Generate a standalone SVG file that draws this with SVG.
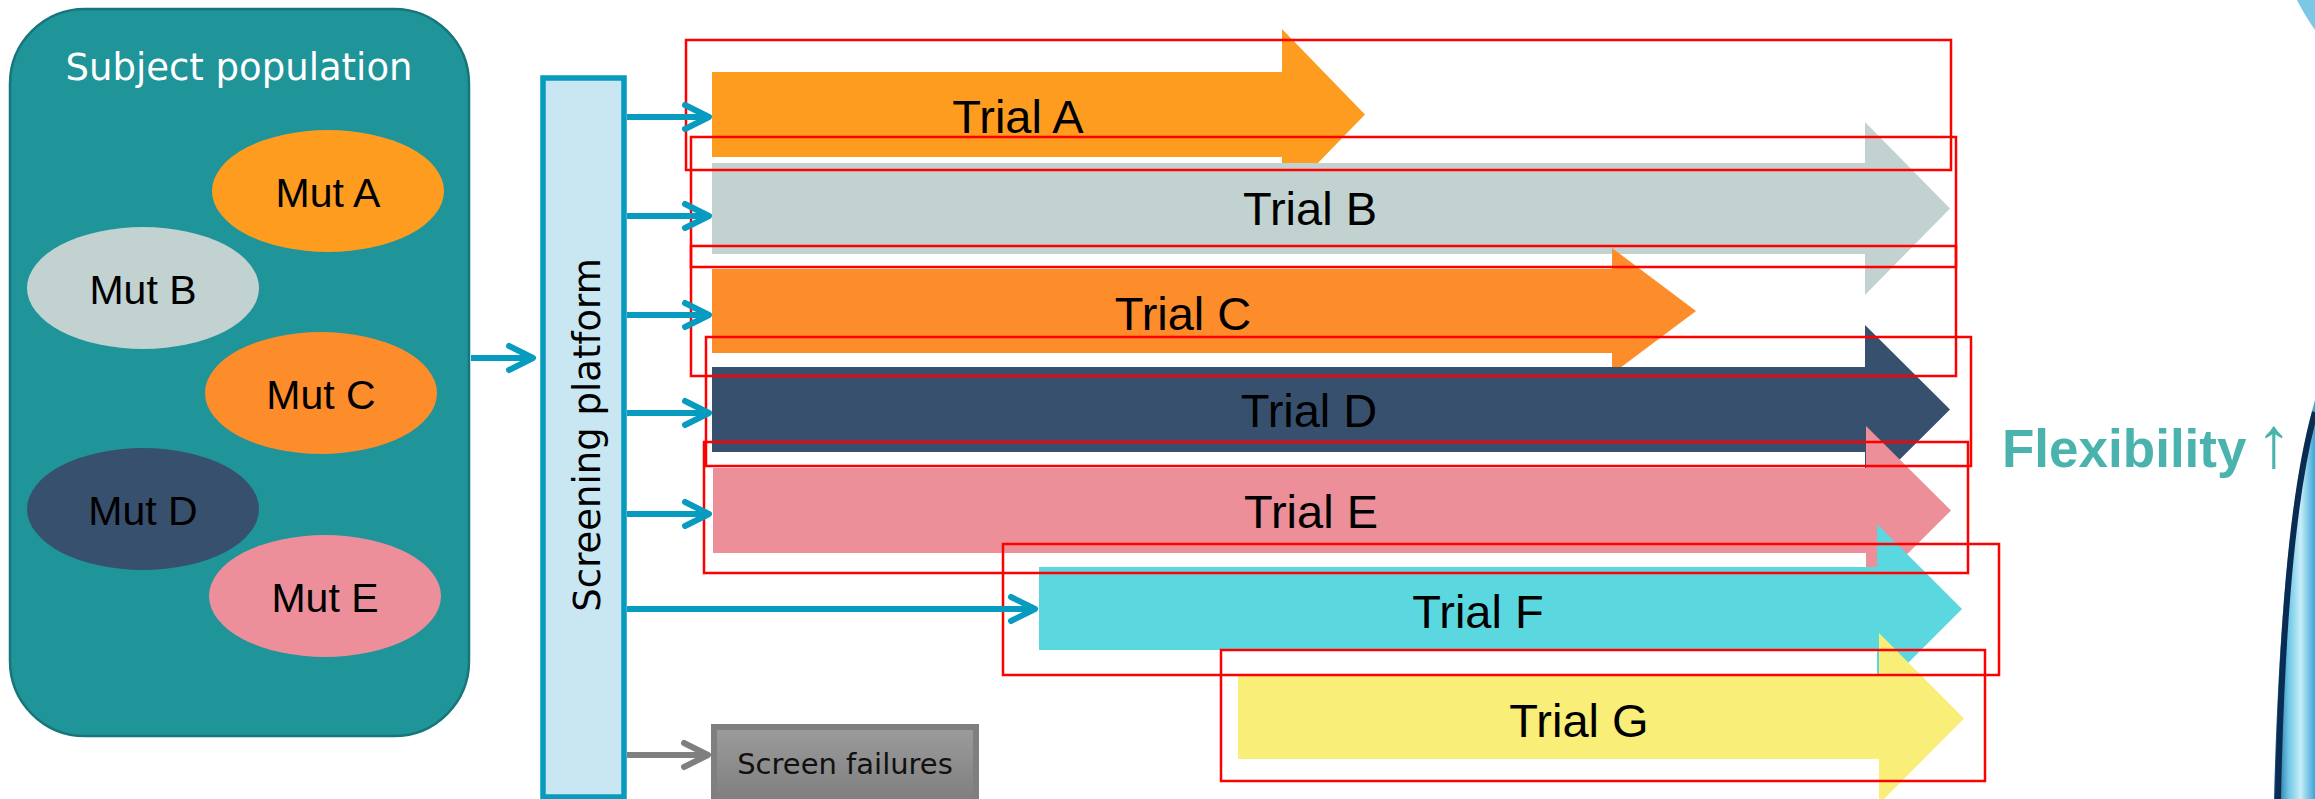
<svg xmlns="http://www.w3.org/2000/svg" width="2315" height="799" viewBox="0 0 2315 799">
  <style>
    .mut-label { font-family: "Liberation Sans", Arial, sans-serif; font-size: 41px; fill: #000; text-anchor: middle; }
    .trial-label { font-family: "Liberation Sans", Arial, sans-serif; font-size: 47px; fill: #000; text-anchor: middle; }
    .box-title { font-family: "DejaVu Sans", Verdana, sans-serif; font-size: 37px; text-anchor: middle; }
    .conn { fill: none; stroke: #079bbf; stroke-width: 6; }
    .conn-grey { fill: none; stroke: #7f7f7f; stroke-width: 6; }
    .frame { fill: none; stroke: #ff0000; stroke-width: 2.5; }
  </style>
  <defs>
    <marker id="chev" markerUnits="userSpaceOnUse" markerWidth="40" markerHeight="40" viewBox="-30 -20 40 40" refX="-6" refY="0" orient="auto" overflow="visible">
      <path d="M-24,-12 L0,0 L-24,12" fill="none" stroke="#079bbf" stroke-width="6" stroke-linejoin="round" stroke-linecap="round"/>
    </marker>
    <marker id="chev-grey" markerUnits="userSpaceOnUse" markerWidth="40" markerHeight="40" viewBox="-30 -20 40 40" refX="-6" refY="0" orient="auto" overflow="visible">
      <path d="M-24,-12 L0,0 L-24,12" fill="none" stroke="#7f7f7f" stroke-width="6" stroke-linejoin="round" stroke-linecap="round"/>
    </marker>
    <linearGradient id="failGrad" x1="0" y1="0" x2="0" y2="1">
      <stop offset="0" stop-color="#9c9c9c"/>
      <stop offset="1" stop-color="#7c7c7c"/>
    </linearGradient>
    <linearGradient id="swooshGrad" x1="0" y1="0" x2="1" y2="0">
      <stop offset="0" stop-color="#0d4f86"/>
      <stop offset="0.35" stop-color="#6cc6e6"/>
      <stop offset="0.65" stop-color="#c8eef8"/>
      <stop offset="1" stop-color="#3aa5d8"/>
    </linearGradient>
  </defs>

  <rect width="2315" height="799" fill="#ffffff"/>

  <!-- decorative swoosh at the right edge -->
  <g id="swoosh">
    <path d="M2315,400 C2294,470 2279,600 2274,799 L2315,799 Z" fill="url(#swooshGrad)"/>
    <path d="M2315,412 C2296,480 2282,600 2278,799" fill="none" stroke="#0a2c52" stroke-width="6"/>
    <path d="M2297,0 C2302,10 2308,20 2315,30 L2315,0 Z" fill="#7cc6e6"/>
  </g>

  <!-- subject population container with mutation ellipses -->
  <g id="population">
    <rect x="10" y="9" width="459" height="727" rx="75" ry="75" fill="#1f9499" stroke="#17767b" stroke-width="2.5"/>
    <text class="box-title" x="239" y="80" fill="#ffffff">Subject population</text>
  </g>
  <g id="mut-a">
    <ellipse cx="328" cy="191" rx="116" ry="61" fill="#fd9c1e"/>
    <text class="mut-label" x="328" y="207">Mut A</text>
  </g>
  <g id="mut-b">
    <ellipse cx="143" cy="288" rx="116" ry="61" fill="#c1d2d0"/>
    <text class="mut-label" x="143" y="304">Mut B</text>
  </g>
  <g id="mut-c">
    <ellipse cx="321" cy="393" rx="116" ry="61" fill="#fd8c2b"/>
    <text class="mut-label" x="321" y="409">Mut C</text>
  </g>
  <g id="mut-d">
    <ellipse cx="143" cy="509" rx="116" ry="61" fill="#36506e"/>
    <text class="mut-label" x="143" y="525">Mut D</text>
  </g>
  <g id="mut-e">
    <ellipse cx="325" cy="596" rx="116" ry="61" fill="#ec8f9a"/>
    <text class="mut-label" x="325" y="612">Mut E</text>
  </g>

  <!-- screening platform -->
  <g id="screening">
    <rect x="543" y="78" width="81" height="719" fill="#c9e7f2" stroke="#079bbf" stroke-width="5.5"/>
    <text class="box-title" transform="translate(600,435) rotate(-90)" x="0" y="0" fill="#000000">Screening platform</text>
  </g>

  <!-- trial arrows -->
  <g id="trial-a">
    <polygon points="712,72 1282,72 1282,29 1365,114.5 1282,200 1282,157 712,157" fill="#fd9c1e"/>
    <text class="trial-label" x="1018" y="133">Trial A</text>
  </g>
  <g id="trial-b">
    <polygon points="712,163 1865,163 1865,122 1950,208.5 1865,295 1865,254 712,254" fill="#c1d2d0"/>
    <text class="trial-label" x="1310" y="225">Trial B</text>
  </g>
  <g id="trial-c">
    <polygon points="712,269 1612,269 1612,248 1696,311 1612,374 1612,353 712,353" fill="#fd8c2b"/>
    <text class="trial-label" x="1183" y="330">Trial C</text>
  </g>
  <g id="trial-d">
    <polygon points="712,367 1865,367 1865,325 1950,409.5 1865,494 1865,452 712,452" fill="#36506e"/>
    <text class="trial-label" x="1309" y="427">Trial D</text>
  </g>
  <g id="trial-e">
    <polygon points="713,468 1866,468 1866,426 1951,510.5 1866,595 1866,553 713,553" fill="#ec8f99"/>
    <text class="trial-label" x="1311" y="528">Trial E</text>
  </g>
  <g id="trial-f">
    <polygon points="1039,567 1877,567 1877,524 1962,609 1877,694 1877,650 1039,650" fill="#5bd8df"/>
    <text class="trial-label" x="1478" y="628">Trial F</text>
  </g>
  <g id="trial-g">
    <polygon points="1238,676 1879,676 1879,633 1964,718.5 1879,804 1879,759 1238,759" fill="#f8ee78"/>
    <text class="trial-label" x="1579" y="737">Trial G</text>
  </g>

  <!-- screen failures -->
  <g id="screen-failures">
    <rect x="714" y="727" width="262" height="80" fill="url(#failGrad)" stroke="#7f7f7f" stroke-width="6"/>
    <text x="845" y="774" font-family="DejaVu Sans, Verdana, sans-serif" font-size="29" fill="#111111" text-anchor="middle">Screen failures</text>
  </g>

  <!-- outline frames around the trial arrows -->
  <g id="frames">
    <rect class="frame" x="686" y="40" width="1265" height="130"/>
    <rect class="frame" x="691" y="137" width="1265" height="130"/>
    <rect class="frame" x="691" y="246" width="1265" height="130"/>
    <rect class="frame" x="706" y="337" width="1265" height="129"/>
    <rect class="frame" x="704" y="442" width="1264" height="131"/>
    <rect class="frame" x="1003" y="544" width="996" height="131"/>
    <rect class="frame" x="1221" y="650" width="764" height="131"/>
  </g>

  <!-- connectors -->
  <g id="connectors">
    <path class="conn" d="M471,358 H527" marker-end="url(#chev)"/>
    <path class="conn" d="M627,117 H703" marker-end="url(#chev)"/>
    <path class="conn" d="M627,216 H703" marker-end="url(#chev)"/>
    <path class="conn" d="M627,315 H703" marker-end="url(#chev)"/>
    <path class="conn" d="M627,413 H703" marker-end="url(#chev)"/>
    <path class="conn" d="M627,514 H703" marker-end="url(#chev)"/>
    <path class="conn" d="M627,609 H1029" marker-end="url(#chev)"/>
    <path class="conn-grey" d="M627,755 H702" marker-end="url(#chev-grey)"/>
  </g>

  <!-- flexibility label -->
  <g id="flexibility">
    <text x="2002" y="467" font-family="Liberation Sans, Arial, sans-serif" font-size="53" font-weight="bold" fill="#4bb3ae">Flexibility<tspan font-weight="normal" font-size="72" x="2256">↑</tspan></text>
  </g>
</svg>
